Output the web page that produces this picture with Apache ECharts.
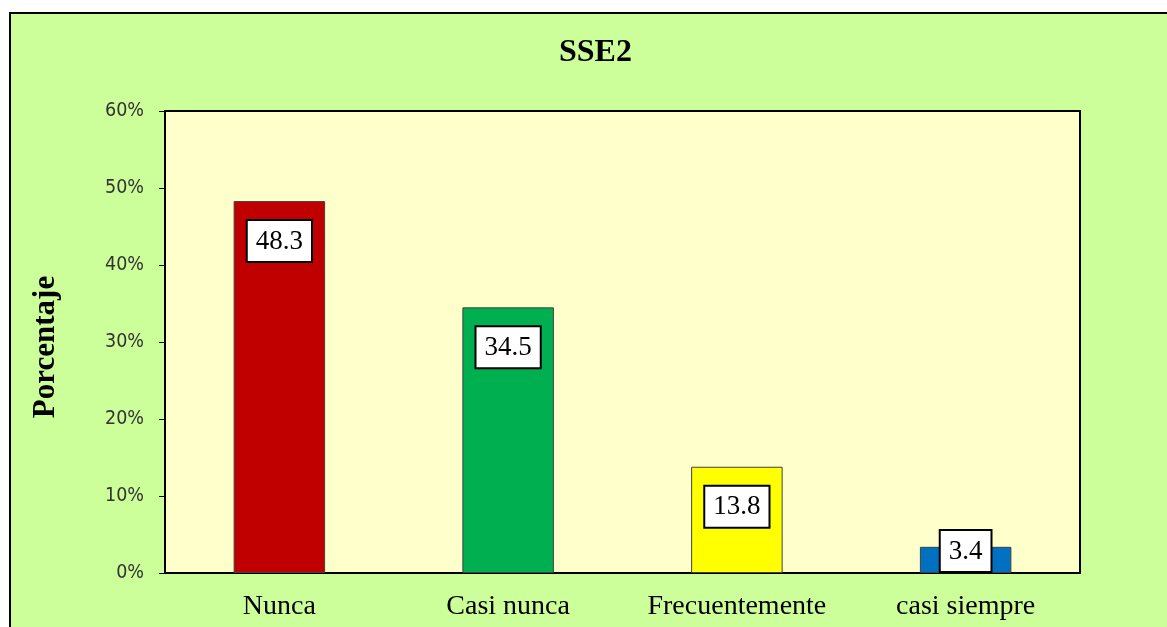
<!DOCTYPE html>
<html>
<head>
<meta charset="utf-8">
<title>SSE2</title>
<script src="https://cdn.jsdelivr.net/npm/echarts@6/dist/echarts.min.js"></script>
<style>
  html, body { margin: 0; padding: 0; background: #ffffff; }
  #chart { width: 1167px; height: 627px; }
</style>
</head>
<body>
<div id="chart"></div>
<script>
// Response categories and their percentages
const categories = ['Nunca', 'Casi nunca', 'Frecuentemente', 'casi siempre'];
const percentages = [48.3, 34.5, 13.8, 3.4];
const barColors = ['#C00000', '#00B050', '#FFFF00', '#0070C0'];
const yTicks = [0, 10, 20, 30, 40, 50, 60];

const serif = '"Liberation Serif", "Times New Roman", serif';

const chart = echarts.init(document.getElementById('chart'));

const barData = percentages.map((v, i) => {
  const item = {
    value: v,
    itemStyle: { color: barColors[i] }
  };
  // short bars: keep the value box resting near the baseline
  if (v < 8) {
    item.label = { position: 'insideBottom', distance: 2 };
  }
  return item;
});

chart.setOption({
  backgroundColor: '#ffffff',
  animation: false,
  graphic: {
    elements: [{
      type: 'rect',
      z: -100,
      silent: true,
      shape: { x: 10, y: 13, width: 1200, height: 700 },
      style: { fill: '#CCFF99', stroke: '#000000', lineWidth: 2 }
    }]
  },
  title: {
    text: 'SSE2',
    left: 554,
    top: 32,
    textStyle: {
      fontFamily: serif,
      fontWeight: 'bold',
      fontSize: 32,
      color: '#000000'
    }
  },
  grid: {
    left: 165,
    top: 111,
    right: 87,
    bottom: 54,
    show: true,
    backgroundColor: '#FFFFCC',
    borderColor: '#000000',
    borderWidth: 2,
    containLabel: false
  },
  xAxis: {
    type: 'category',
    data: categories,
    axisLine: { show: true, lineStyle: { color: '#000000', width: 2 } },
    axisTick: { show: false },
    axisLabel: {
      interval: 0,
      margin: 20,
      fontFamily: serif,
      fontSize: 28,
      color: '#000000'
    },
    splitLine: { show: false }
  },
  yAxis: {
    type: 'value',
    min: yTicks[0],
    max: yTicks[yTicks.length - 1],
    interval: yTicks[1] - yTicks[0],
    name: 'Porcentaje',
    nameLocation: 'middle',
    nameGap: 104,
    nameRotate: 90,
    nameTextStyle: {
      fontFamily: serif,
      fontWeight: 'bold',
      fontSize: 31,
      color: '#000000',
      padding: [0, 10, 0, 0]
    },
    axisLine: { show: true, lineStyle: { color: '#000000', width: 2 } },
    axisTick: { show: true, inside: false, length: 6, lineStyle: { color: '#000000', width: 1 } },
    axisLabel: {
      margin: 21,
      formatter: '{value}%',
      fontFamily: '"DejaVu Sans Condensed", "DejaVu Sans", Tahoma, sans-serif',
      fontSize: 19.5,
      color: '#333333',
      padding: [3, 0, 0, 0]
    },
    splitLine: { show: false }
  },
  series: [{
    type: 'bar',
    data: barData,
    barWidth: '40%',
    itemStyle: { borderColor: '#404040', borderWidth: 1 },
    label: {
      show: true,
      position: 'insideTop',
      distance: 20,
      formatter: p => p.value.toFixed(1),
      fontFamily: serif,
      fontSize: 27,
      color: '#000000',
      backgroundColor: '#ffffff',
      borderColor: '#000000',
      borderWidth: 2,
      padding: [7, 8, 6, 8]
    }
  }]
});
</script>
</body>
</html>
